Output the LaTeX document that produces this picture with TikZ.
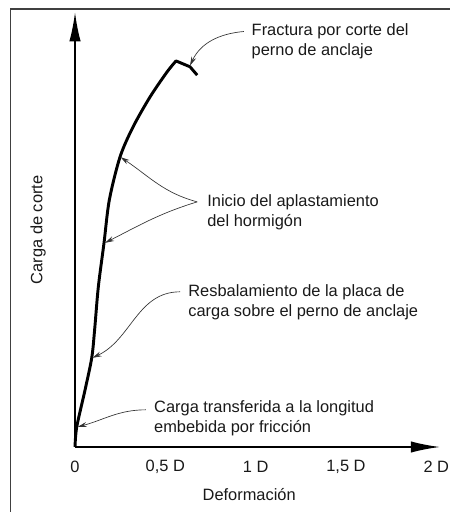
\documentclass[tikz,border=0pt]{standalone}
\usepackage{fontspec}
\setmainfont{Liberation Sans}
\usetikzlibrary{arrows.meta}

\begin{document}
\begin{tikzpicture}[
	txt/.style={font=\fontsize{12.3}{14.6}\selectfont, inner sep=0pt, align=left, text=black!90},
	axis/.style={line width=1.3pt, -{Latex[length=7.7mm,width=3mm]}},
	leader/.style={line width=0.5pt, black!80, -{Stealth[length=2.4mm,width=1.3mm]}},
	]
	\useasboundingbox (-1.977,-1.713) rectangle (9.858,11.78);
	% marco
	\draw[line width=1.2pt, black!75] (-1.695,-1.9) -- (-1.695,11.545) -- (10,11.545);
	% ejes
	\coordinate (O) at (0,0);
	\coordinate (xtip) at (9.62,0);
	\coordinate (ytip) at (0,11.46);
	\draw[axis] (O) -- (xtip);
	\draw[axis] (O) -- (ytip);
	\foreach \lab [count=\i] in {0,{0,5 D},1 D,{1,5 D},2 D}
		\node[txt] (tick\i) at ({2.38*(\i-1)},-0.53) {\lab};
	\node[txt] (xlab) at (4.59,-1.24) {Deformación};
	\node[txt, rotate=90] (ylab) at (-0.975,5.72) {Carga de corte};
	% curva carga-deformacion
	\draw[line width=2.2pt, line join=round] plot[smooth, tension=0.5] coordinates {(0,0) (0.045,0.527) (0.264,1.502) (0.44,2.346) (0.514,3.057) (0.614,4.217) (0.764,5.377) (0.904,6.51) (1.186,7.644) (1.529,8.434) (1.977,9.225) (2.425,9.884) (2.662,10.174)} -- (3.03,10.02) -- (3.22,9.80);
	\coordinate (p1) at (3.03,10.05);
	\coordinate (p2) at (1.20,7.64);
	\coordinate (p3) at (0.79,5.38);
	\coordinate (p4) at (0.46,2.35);
	\coordinate (p5) at (0.07,0.53);
	% textos
	\node[txt, anchor=west] (fract) at (4.65,10.69) {Fractura por corte del\\perno de anclaje};
	\node[txt, anchor=west] (inicio) at (3.48,6.19) {Inicio del aplastamiento\\del hormigón};
	\node[txt, anchor=west] (resb) at (2.98,3.81) {Resbalamiento de la placa de\\carga sobre el perno de anclaje};
	\node[txt, anchor=west] (transf) at (2.08,0.76) {Carga transferida a la longitud\\embebida por fricción};
	\coordinate (f0) at (4.45,10.95);
	\coordinate (i0) at (3.22,6.46);
	\coordinate (r0) at (2.77,4.09);
	\coordinate (t0) at (1.87,0.98);
	% flechas
	\draw[leader] (f0) to[out=185,in=65] (p1);
	\draw[leader] (i0) to[out=165,in=-34] (p2);
	\draw[leader] (i0) to[out=197,in=27] (p3);
	\draw[leader] (r0) to[out=180,in=25] (p4);
	\draw[leader] (t0) to[out=180,in=15] (p5);
\end{tikzpicture}
\end{document}
